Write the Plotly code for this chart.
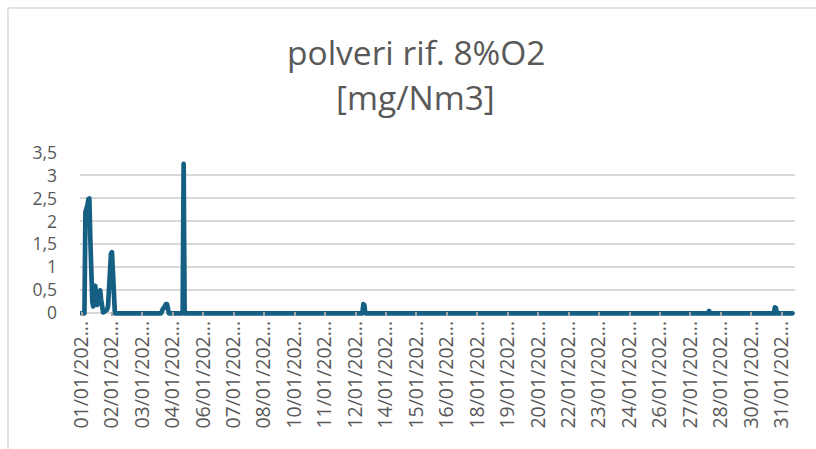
import plotly.graph_objects as go

# ---- data ----
# hourly sample index where the line changes, and the value there [mg/Nm3]
point_index = [0, 3, 4, 5, 6, 7, 8, 9, 10, 11, 12, 13, 14, 15, 16, 17, 18, 19, 20, 21,
               22, 23, 24, 25, 26, 27, 28, 29, 30, 31, 32, 33, 34,
               81, 82, 83, 84, 85, 86, 87, 88, 89,
               103, 104, 105,
               286, 287, 288, 289,
               638, 639, 640,
               705, 706, 707, 708,
               724]
point_value = [0, 0, 2.2, 2.25, 2.35, 2.48, 2.5, 1.6, 0.7, 0.25, 0.15, 0.4, 0.6, 0.35, 0.18, 0.3, 0.45, 0.5, 0.3, 0.08,
               0.02, 0.03, 0.05, 0.07, 0.08, 0.15, 0.4, 0.9, 1.3, 1.33, 0.9, 0.2, 0,
               0, 0.08, 0.1, 0.12, 0.2, 0.2, 0.2, 0.1, 0,
               0, 3.25, 0,
               0, 0.2, 0.18, 0,
               0, 0.05, 0,
               0, 0.13, 0.12, 0,
               0]

x_tick_labels = ["01/01/202...", "02/01/202...", "03/01/202...", "04/01/202...", "06/01/202...",
                 "07/01/202...", "08/01/202...", "10/01/202...", "11/01/202...", "12/01/202...",
                 "14/01/202...", "15/01/202...", "16/01/202...", "18/01/202...", "19/01/202...",
                 "20/01/202...", "22/01/202...", "23/01/202...", "24/01/202...", "26/01/202...",
                 "27/01/202...", "28/01/202...", "30/01/202...", "31/01/202..."]
label_step = 31
x_tick_index = [k * label_step for k in range(len(x_tick_labels))]

y_tick_values = [0, 0.5, 1, 1.5, 2, 2.5, 3, 3.5]
y_tick_labels = ["0", "0,5", "1", "1,5", "2", "2,5", "3", "3,5"]

title_line1 = "polveri rif. 8%O2"
title_line2 = "[mg/Nm3]"

# ---- figure ----
W, H = 816, 449
L, R, T, B = 80, 21, 152, 133
plot_h = H - T - B
plot_w = W - L - R

def py(px):  # pixel y -> paper y
    return (H - B - px) / plot_h

def pxp(px):  # pixel x -> paper x
    return (px - L) / plot_w

grey_text = "#595959"
font_family = "Open Sans"

fig = go.Figure()
fig.add_trace(go.Scatter(
    x=point_index, y=point_value, mode="lines",
    line=dict(color="#156082", width=4.7),
    hoverinfo="skip", showlegend=False,
))

fig.update_layout(
    width=W, height=H,
    margin=dict(l=L, r=R, t=T, b=B, pad=0),
    paper_bgcolor="white", plot_bgcolor="white",
    showlegend=False,
    font=dict(family=font_family, color=grey_text),
    annotations=[
        dict(text=title_line1, x=pxp(415.5), y=py(52), xref="paper", yref="paper",
             xanchor="center", yanchor="middle", showarrow=False,
             font=dict(family=font_family, size=33.5, color=grey_text)),
        dict(text=title_line2, x=pxp(415.5), y=py(97), xref="paper", yref="paper",
             xanchor="center", yanchor="middle", showarrow=False,
             font=dict(family=font_family, size=33.5, color=grey_text)),
    ],
    shapes=[
        dict(type="rect", xref="paper", yref="paper",
             x0=pxp(8), x1=pxp(830), y0=py(470), y1=py(8),
             line=dict(color="#d9d9d9", width=1.5), fillcolor="rgba(0,0,0,0)", layer="below"),
    ],
)

fig.update_xaxes(
    range=[-1.53, 726.5], tickmode="array", tickvals=x_tick_index, ticktext=x_tick_labels,
    tickangle=-90, ticks="inside", ticklen=4, tickcolor="#a6a6a6", tickwidth=1.5,
    showgrid=False, zeroline=False, showline=False,
    tickfont=dict(family=font_family, size=19.5, color=grey_text),
)
fig.update_yaxes(
    range=[-0.059, 3.51], tickmode="array", tickvals=y_tick_values, ticktext=y_tick_labels,
    showgrid=True, gridcolor="#d9d9d9", gridwidth=1.5, zeroline=False, showline=False,
    ticks="", ticklabelstandoff=22,
    tickfont=dict(family=font_family, size=17.5, color=grey_text),
)

post = ("document.body.style.margin='0';document.body.style.overflow='hidden';"
        "document.querySelectorAll('.scatterlayer .js-line').forEach(function(p){"
        "p.style.strokeLinejoin='round';p.style.strokeLinecap='round';});")
fig.write_html("out.html", post_script=post, config={"displayModeBar": False})
